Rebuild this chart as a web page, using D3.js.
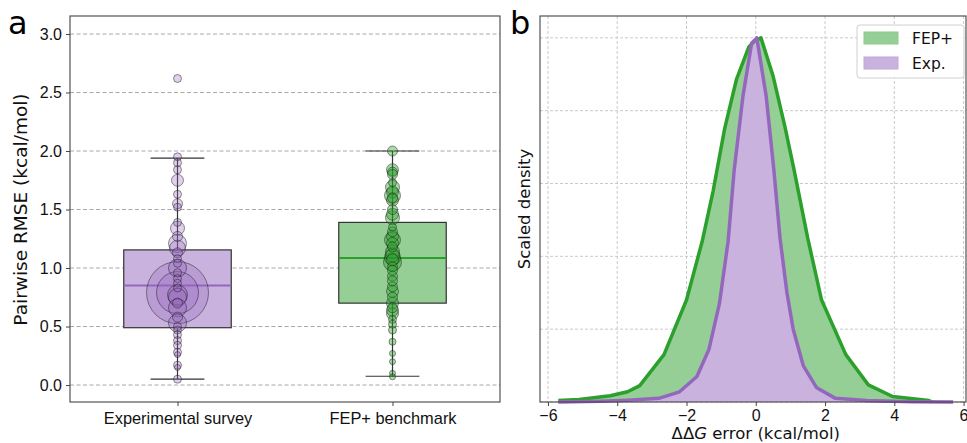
<!DOCTYPE html>
<html>
<head>
<meta charset="utf-8">
<script src="https://cdn.jsdelivr.net/npm/d3@7"></script>
<style>
  body { margin: 0; background: #fff; }
  svg { font-family: 'DejaVu Sans', sans-serif; }
</style>
</head>
<body>
<div id="chart"><svg width="967" height="443"></svg></div>
<script>
// ---- panel a data ----
const categories = ['Experimental survey', 'FEP+ benchmark'];
const boxQ1 = [0.49, 0.70];
const boxMedian = [0.85, 1.085];
const boxQ3 = [1.155, 1.39];
const whiskerLow = [0.05, 0.075];
const whiskerHigh = [1.94, 2.0];
const yTicksA = [0, 0.5, 1.0, 1.5, 2.0, 2.5, 3.0];

// strip points: pairwise RMSE values and marker radius (weight)
const expValues = [2.62, 1.95, 1.90, 1.84, 1.75, 1.63, 1.55, 1.52, 1.39, 1.34, 1.27, 1.21, 1.17, 1.13,
  1.08, 1.04, 1.00, 0.96, 0.91, 0.87, 0.83, 0.79, 0.79, 0.77, 0.75, 0.70, 0.66, 0.58, 0.53, 0.50,
  0.47, 0.43, 0.38, 0.34, 0.28, 0.26, 0.17, 0.15, 0.05];
const expSizes = [4, 4, 4, 4, 6, 4, 5, 4, 4, 7, 5, 9, 8, 5,
  4, 4, 9, 4, 4, 4, 4, 31, 21, 10, 9, 5, 9, 5, 9, 4,
  4, 4, 4, 4, 4, 3, 4, 3, 4];
const fepValues = [2.00, 1.84, 1.82, 1.73, 1.65, 1.62, 1.58, 1.50, 1.43, 1.35, 1.27, 1.24, 1.18, 1.14,
  1.09, 1.05, 1.01, 0.93, 0.84, 0.75, 0.70, 0.61, 0.56, 0.47, 0.37, 0.27, 0.20, 0.10, 0.07,
  1.80, 1.69, 1.60, 1.46, 1.31, 1.21, 1.11, 1.07, 0.98, 0.89, 0.80, 0.66, 0.64, 0.52];
const fepSizes = [5, 6, 5, 4, 6, 8, 6, 5, 7, 4, 6, 8, 5, 7,
  8, 9, 5, 5, 5, 5, 6, 6, 4, 4, 3.5, 3, 3, 3, 3,
  5, 7, 5, 6, 5, 6, 7, 6, 5, 5, 6, 5, 6, 4];

// ---- panel b data ----
const xTicksB = [-6, -4, -2, 0, 2, 4, 6];
const yGridB = [0, 0.2, 0.4, 0.6, 0.8, 1.0];
const fepX = [-5.7, -5.1, -4.2, -3.7, -3.35, -2.65, -2.0, -1.55, -1.23, -0.9, -0.56, -0.2, -0.05, 0.15,
  0.5, 0.84, 1.1, 1.5, 1.9, 2.6, 3.25, 3.95, 5.0, 5.1];
const fepDensity = [0.004, 0.007, 0.017, 0.028, 0.045, 0.13, 0.28, 0.44, 0.58, 0.75, 0.885, 0.975, 0.99, 1.0,
  0.895, 0.757, 0.64, 0.45, 0.28, 0.13, 0.047, 0.015, 0.004, 0.0];
const expX = [-5.7, -4.5, -3.7, -2.8, -2.2, -1.7, -1.35, -1.05, -0.8, -0.62, -0.37, -0.12, 0.03,
  0.3, 0.52, 0.7, 0.9, 1.08, 1.37, 1.75, 2.3, 3.2, 4.5, 5.7];
const expDensity = [0.0, 0.002, 0.005, 0.01, 0.028, 0.07, 0.145, 0.27, 0.44, 0.64, 0.84, 0.985, 1.0,
  0.84, 0.64, 0.45, 0.3, 0.2, 0.1, 0.04, 0.01, 0.004, 0.001, 0.0];
const legendLabels = ['FEP+', 'Exp.'];

const purple = '#9467bd', green = '#2ca02c';
const purpleLight = '#c9b3de', greenLight = '#96cf96';
const gridColor = '#a8a8a8';

const svg = d3.select('#chart > svg');

// ================= panel a =================
const xA = d3.scaleLinear().domain([-0.5, 1.5]).range([70, 500]);
const yA = d3.scaleLinear().domain([-0.145, 3.154]).range([402, 16]);
const gA = svg.append('g');

gA.append('g').selectAll('line')
  .data(yTicksA).enter().append('line')
  .attr('x1', 70).attr('x2', 500)
  .attr('y1', d => yA(d)).attr('y2', d => yA(d))
  .attr('stroke', gridColor).attr('stroke-width', 1)
  .attr('stroke-dasharray', '4,2.5');

const boxW = 0.5, capW = 0.25;
const boxes = gA.append('g').selectAll('g')
  .data(categories).enter().append('g');

// whiskers
boxes.append('line')
  .attr('x1', (d, i) => xA(i)).attr('x2', (d, i) => xA(i))
  .attr('y1', (d, i) => yA(whiskerLow[i])).attr('y2', (d, i) => yA(boxQ1[i]))
  .attr('stroke', '#333').attr('stroke-width', 1.2);
boxes.append('line')
  .attr('x1', (d, i) => xA(i)).attr('x2', (d, i) => xA(i))
  .attr('y1', (d, i) => yA(boxQ3[i])).attr('y2', (d, i) => yA(whiskerHigh[i]))
  .attr('stroke', '#333').attr('stroke-width', 1.2);
boxes.append('line')
  .attr('x1', (d, i) => xA(i - capW / 2)).attr('x2', (d, i) => xA(i + capW / 2))
  .attr('y1', (d, i) => yA(whiskerLow[i])).attr('y2', (d, i) => yA(whiskerLow[i]))
  .attr('stroke', '#333').attr('stroke-width', 1.2);
boxes.append('line')
  .attr('x1', (d, i) => xA(i - capW / 2)).attr('x2', (d, i) => xA(i + capW / 2))
  .attr('y1', (d, i) => yA(whiskerHigh[i])).attr('y2', (d, i) => yA(whiskerHigh[i]))
  .attr('stroke', '#333').attr('stroke-width', 1.2);
// box
boxes.append('rect')
  .attr('x', (d, i) => xA(i - boxW / 2))
  .attr('width', xA(boxW) - xA(0))
  .attr('y', (d, i) => yA(boxQ3[i]))
  .attr('height', (d, i) => yA(boxQ1[i]) - yA(boxQ3[i]))
  .attr('fill', (d, i) => i === 0 ? purpleLight : greenLight)
  .attr('stroke', '#333').attr('stroke-width', 1.2);
boxes.append('line')
  .attr('x1', (d, i) => xA(i - boxW / 2)).attr('x2', (d, i) => xA(i + boxW / 2))
  .attr('y1', (d, i) => yA(boxMedian[i])).attr('y2', (d, i) => yA(boxMedian[i]))
  .attr('stroke', (d, i) => i === 0 ? purple : green).attr('stroke-width', 2);

// points
const pointSets = [
  { vals: expValues, sizes: expSizes, color: purple, idx: 0, alpha: 0.3 },
  { vals: fepValues, sizes: fepSizes, color: green, idx: 1, alpha: 0.4 }
];
pointSets.forEach(function(s) {
  const pts = s.vals.map((v, j) => ({ v: v, r: s.sizes[j] }))
    .sort((a, b) => b.r - a.r);
  gA.append('g').selectAll('circle')
    .data(pts).enter().append('circle')
    .attr('cx', xA(s.idx))
    .attr('cy', d => yA(d.v))
    .attr('r', d => d.r)
    .attr('fill', s.color).attr('fill-opacity', s.alpha)
    .attr('stroke', '#1a1a1a').attr('stroke-opacity', 0.6).attr('stroke-width', 0.8);
});

// axes
gA.append('g')
  .attr('transform', 'translate(70,0)')
  .call(d3.axisLeft(yA).tickValues(yTicksA).tickFormat(d3.format('.1f')).tickSize(4).tickPadding(4))
  .call(g => g.select('.domain').remove())
  .call(g => g.selectAll('text').attr('font-size', 16).attr('fill', '#111'))
  .call(g => g.selectAll('line').attr('stroke', '#444'));
gA.append('g')
  .attr('transform', 'translate(0,402)')
  .call(d3.axisBottom(xA).tickValues([0, 1]).tickFormat((d, i) => categories[i]).tickSize(4).tickPadding(6))
  .call(g => g.select('.domain').remove())
  .call(g => g.selectAll('text').attr('font-size', 16.4).attr('fill', '#111'))
  .call(g => g.selectAll('line').attr('stroke', '#444'));
gA.append('rect')
  .attr('x', 70).attr('y', 16).attr('width', 430).attr('height', 386)
  .attr('fill', 'none').attr('stroke', '#444').attr('stroke-width', 1.1);

gA.append('text')
  .attr('transform', 'translate(27,' + yA(1.5) + ') rotate(-90)')
  .attr('text-anchor', 'middle')
  .attr('font-size', 18.5).attr('fill', '#111')
  .text('Pairwise RMSE (kcal/mol)');
svg.append('text')
  .attr('x', 8).attr('y', 34)
  .attr('font-size', 32).attr('fill', '#000')
  .text('a');

// ================= panel b =================
const xB = d3.scaleLinear().domain([-6.23, 6.07]).range([540, 966]);
const yB = d3.scaleLinear().domain([0, 1.06]).range([402, 16]);
const gB = svg.append('g');

gB.append('g').selectAll('line')
  .data(xTicksB).enter().append('line')
  .attr('x1', d => xB(d)).attr('x2', d => xB(d))
  .attr('y1', 16).attr('y2', 402)
  .attr('stroke', '#c4c4c4').attr('stroke-width', 0.9)
  .attr('stroke-dasharray', '3,2');
gB.append('g').selectAll('line')
  .data(yGridB).enter().append('line')
  .attr('x1', 540).attr('x2', 966)
  .attr('y1', d => yB(d)).attr('y2', d => yB(d))
  .attr('stroke', '#c4c4c4').attr('stroke-width', 0.9)
  .attr('stroke-dasharray', '3,2');

const area = d3.area().x(d => xB(d[0])).y0(yB(0)).y1(d => yB(d[1]));
const line = d3.line().x(d => xB(d[0])).y(d => yB(d[1]));
const fepPts = fepX.map((x, i) => [x, fepDensity[i]]);
const expPts = expX.map((x, i) => [x, expDensity[i]]);

gB.append('path').datum(fepPts).attr('d', area).attr('fill', greenLight);
gB.append('path').datum(expPts).attr('d', area).attr('fill', purpleLight);
gB.append('path').datum(fepPts).attr('d', line)
  .attr('fill', 'none').attr('stroke', green).attr('stroke-width', 3.5).attr('stroke-linejoin', 'round');
gB.append('path').datum(expPts).attr('d', line)
  .attr('fill', 'none').attr('stroke', purple).attr('stroke-width', 3.5).attr('stroke-linejoin', 'round');

gB.append('g')
  .attr('transform', 'translate(0,402)')
  .call(d3.axisBottom(xB).tickValues(xTicksB).tickFormat(d3.format('d')).tickSize(4).tickPadding(4))
  .call(g => g.select('.domain').remove())
  .call(g => g.selectAll('text').attr('font-size', 16).attr('fill', '#111'))
  .call(g => g.selectAll('line').attr('stroke', '#444'));
gB.append('rect')
  .attr('x', 540).attr('y', 16).attr('width', 426).attr('height', 386)
  .attr('fill', 'none').attr('stroke', '#444').attr('stroke-width', 1.1);

const xLab = gB.append('text')
  .attr('x', xB(0)).attr('y', 439)
  .attr('text-anchor', 'middle')
  .attr('font-size', 16.5).attr('fill', '#111');
xLab.append('tspan').text('ΔΔ');
xLab.append('tspan').attr('font-style', 'italic').text('G');
xLab.append('tspan').text(' error (kcal/mol)');

gB.append('text')
  .attr('transform', 'translate(530,' + yB(0.53) + ') rotate(-90)')
  .attr('text-anchor', 'middle')
  .attr('font-size', 16.5).attr('fill', '#111')
  .text('Scaled density');
svg.append('text')
  .attr('x', 510).attr('y', 34)
  .attr('font-size', 32).attr('fill', '#000')
  .text('b');

// legend
const leg = gB.append('g').attr('transform', 'translate(857,25)');
leg.append('rect')
  .attr('width', 107).attr('height', 53).attr('rx', 3)
  .attr('fill', '#fff').attr('fill-opacity', 0.85)
  .attr('stroke', '#d0d0d0').attr('stroke-width', 1);
const items = leg.selectAll('g.item')
  .data(legendLabels).enter().append('g')
  .attr('class', 'item')
  .attr('transform', (d, i) => 'translate(0,' + (13 + i * 25) + ')');
items.append('rect')
  .attr('x', 7).attr('y', -6).attr('width', 34).attr('height', 12)
  .attr('fill', (d, i) => i === 0 ? greenLight : purpleLight)
  .attr('stroke', (d, i) => i === 0 ? '#8cc98c' : '#c0a8d8');
items.append('text')
  .attr('x', 55).attr('y', 5.5)
  .attr('font-size', 15.5).attr('fill', '#111')
  .text(d => d);
</script>
</body>
</html>
